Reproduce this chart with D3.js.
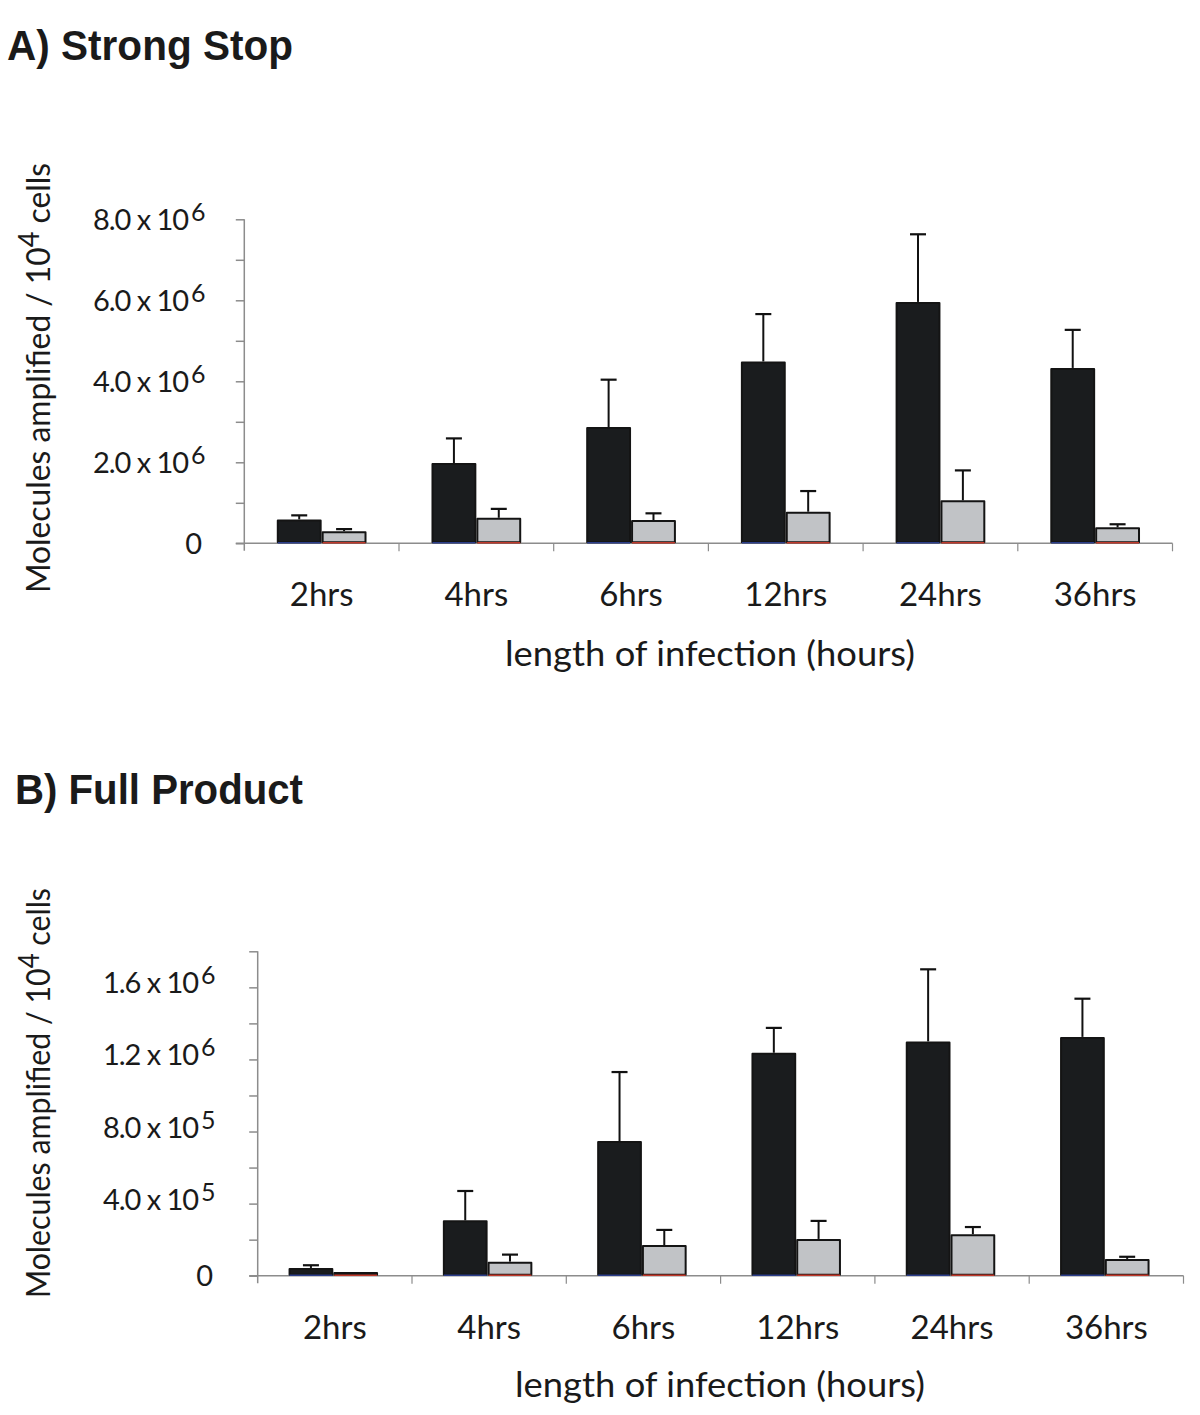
<!DOCTYPE html>
<html>
<head>
<meta charset="utf-8">
<script src="https://cdn.jsdelivr.net/npm/d3@7"></script>
<style>
  html, body { margin: 0; padding: 0; background: #ffffff; }
  svg { display: block; }
</style>
</head>
<body>
<svg id="chart" width="1200" height="1415"></svg>
<script>
// ---------- DATA ----------
const categories = ["2hrs", "4hrs", "6hrs", "12hrs", "24hrs", "36hrs"];
const seriesKeys = ["dark", "light"];

// Panel A: Strong Stop (molecules / 10^4 cells)
const strongStopDark      = [0.59e6, 1.98e6, 2.87e6, 4.49e6, 5.96e6, 4.33e6];
const strongStopDarkErr   = [0.10e6, 0.61e6, 1.17e6, 1.17e6, 1.67e6, 0.94e6];
const strongStopLight     = [0.30e6, 0.63e6, 0.575e6, 0.78e6, 1.06e6, 0.395e6];
const strongStopLightErr  = [0.05e6, 0.22e6, 0.165e6, 0.51e6, 0.74e6, 0.075e6];
const strongStopTicks     = [0, 1e6, 2e6, 3e6, 4e6, 5e6, 6e6, 7e6, 8e6];
const strongStopLabelVals = [0, 2e6, 4e6, 6e6, 8e6];
const strongStopLabels    = ["0", "2.0 x 10", "4.0 x 10", "6.0 x 10", "8.0 x 10"];
const strongStopExps      = ["", "6", "6", "6", "6"];

// Panel B: Full Product
const fullDark      = [0.43e5, 3.07e5, 7.47e5, 12.37e5, 13.0e5, 13.25e5];
const fullDarkErr   = [0.15e5, 1.63e5, 3.83e5, 1.38e5, 4.0e5, 2.12e5];
const fullLight     = [0.2e5, 0.78e5, 1.70e5, 2.04e5, 2.3e5, 0.93e5];
const fullLightErr  = [0, 0.39e5, 0.84e5, 1.0e5, 0.4e5, 0.12e5];
const fullTicks     = [0, 2e5, 4e5, 6e5, 8e5, 10e5, 12e5, 14e5, 16e5, 18e5];
const fullLabelVals = [0, 4e5, 8e5, 12e5, 16e5];
const fullLabels    = ["0", "4.0 x 10", "8.0 x 10", "1.2 x 10", "1.6 x 10"];
const fullExps      = ["", "5", "5", "6", "6"];

const titleA = "A) Strong Stop";
const titleB = "B) Full Product";
const xTitle = "length of infection (hours)";
const yTitleMain = "Molecules amplified / 10";
const yTitleExp = "4";
const yTitleEnd = " cells";

// ---------- DRAW ----------
const svg = d3.select("#chart");
svg.append("rect").attr("width", 1200).attr("height", 1415).attr("fill", "#ffffff");

const AXIS = "#8c8c8c";
const INK = "#1a1a1a";
const DARK = "#1a1c1e";
const LIGHT = "#c1c3c6";
const LABEL_FONT = "Lato, 'Open Sans', sans-serif";

function drawPanel(cfg) {
  const g = svg.append("g");
  const x = d3.scaleBand().domain(categories).range([cfg.left, cfg.right]).paddingInner(0).paddingOuter(0);
  const bw = x.bandwidth();
  const xs = d3.scaleBand().domain(seriesKeys).range([bw * cfg.p0, bw * cfg.p1]).padding(0);
  const y = d3.scaleLinear().domain([0, cfg.yMax]).range([cfg.zero, cfg.top]);

  // title
  g.append("text")
    .attr("x", cfg.titleX).attr("y", cfg.titleY)
    .attr("font-family", "'Liberation Sans', Arial, sans-serif")
    .attr("font-weight", "bold").attr("font-size", 43)
    .attr("fill", INK)
    .attr("textLength", cfg.titleLen).attr("lengthAdjust", "spacingAndGlyphs")
    .text(cfg.title);

  // y axis (line + ticks)
  const yAxis = d3.axisLeft(y).tickValues(cfg.ticks).tickSize(8.5).tickFormat("");
  const ya = g.append("g").attr("transform", `translate(${cfg.left},0)`).call(yAxis);
  ya.select(".domain").remove();
  ya.selectAll(".tick line").attr("stroke", AXIS).attr("stroke-width", 1.5);
  g.append("line")
    .attr("x1", cfg.left).attr("x2", cfg.left)
    .attr("y1", y(cfg.yMax)).attr("y2", cfg.zero + 7.5)
    .attr("stroke", AXIS).attr("stroke-width", 1.5);

  // x axis line + category boundary ticks
  g.append("line")
    .attr("x1", cfg.left - 8.5).attr("x2", cfg.right)
    .attr("y1", cfg.zero).attr("y2", cfg.zero)
    .attr("stroke", AXIS).attr("stroke-width", 1.5);
  const bounds = categories.map(c => x(c) + bw);
  g.selectAll(".xtick").data(bounds).enter().append("line")
    .attr("x1", d => d).attr("x2", d => d)
    .attr("y1", cfg.zero).attr("y2", cfg.zero + 8)
    .attr("stroke", AXIS).attr("stroke-width", 1.2);

  // y tick labels
  cfg.labelVals.forEach((v, i) => {
    if (cfg.exps[i] === "") {
      g.append("text")
        .attr("x", cfg.zeroEnd).attr("y", y(v) + 10.5)
        .attr("text-anchor", "end")
        .attr("font-family", LABEL_FONT).attr("font-size", 29).attr("fill", INK)
        .text(cfg.labels[i]);
    } else {
      g.append("text")
        .attr("x", cfg.mainEnd).attr("y", y(v) + cfg.labelDy)
        .attr("text-anchor", "end")
        .attr("font-family", LABEL_FONT).attr("font-size", 29).attr("fill", INK)
        .attr("textLength", 96).attr("lengthAdjust", "spacing")
        .text(cfg.labels[i]);
      g.append("text")
        .attr("x", cfg.mainEnd + cfg.supGap).attr("y", y(v) + cfg.labelDy - 9)
        .attr("font-family", LABEL_FONT).attr("font-size", 25).attr("fill", INK)
        .text(cfg.exps[i]);
    }
  });

  // x tick labels
  g.selectAll(".xlab").data(categories).enter().append("text")
    .attr("x", d => x(d) + bw / 2).attr("y", cfg.xLabelY)
    .attr("text-anchor", "middle")
    .attr("font-family", LABEL_FONT).attr("font-size", 33).attr("fill", INK)
    .text(d => d);

  // x title
  g.append("text")
    .attr("x", cfg.xTitleX).attr("y", cfg.xTitleY)
    .attr("text-anchor", "middle")
    .attr("font-family", LABEL_FONT).attr("font-size", 34).attr("fill", INK)
    .attr("textLength", 410).attr("lengthAdjust", "spacingAndGlyphs")
    .text(xTitle);

  // y title
  const yt = g.append("text")
    .attr("transform", `translate(${cfg.yTitleX},${cfg.yTitleY}) rotate(-90)`)
    .attr("text-anchor", "middle")
    .attr("font-family", LABEL_FONT).attr("font-size", 33).attr("fill", INK)
    .attr("textLength", cfg.yTitleLen).attr("lengthAdjust", "spacingAndGlyphs");
  yt.append("tspan").text(yTitleMain);
  yt.append("tspan").attr("dy", -11).attr("font-size", 28).text(yTitleExp);
  yt.append("tspan").attr("dy", 11).text(yTitleEnd);

  // bars
  const rows = categories.map((c, i) => ({
    cat: c,
    vals: [
      { key: "dark", v: cfg.dark[i], e: cfg.darkErr[i] },
      { key: "light", v: cfg.light[i], e: cfg.lightErr[i] }
    ]
  }));
  const grp = g.selectAll(".grp").data(rows).enter().append("g")
    .attr("transform", d => `translate(${x(d.cat)},0)`);

  // error bars (behind bars)
  const eb = grp.selectAll(".err").data(d => d.vals.filter(v => v.e > 0)).enter().append("g");
  eb.append("line")
    .attr("x1", d => xs(d.key) + xs.bandwidth() / 2)
    .attr("x2", d => xs(d.key) + xs.bandwidth() / 2)
    .attr("y1", d => y(d.v)).attr("y2", d => y(d.v + d.e))
    .attr("stroke", "#111").attr("stroke-width", 2);
  eb.append("line")
    .attr("x1", d => xs(d.key) + xs.bandwidth() / 2 - 8)
    .attr("x2", d => xs(d.key) + xs.bandwidth() / 2 + 8)
    .attr("y1", d => y(d.v + d.e)).attr("y2", d => y(d.v + d.e))
    .attr("stroke", "#111").attr("stroke-width", 2.2);

  grp.selectAll(".bar").data(d => d.vals).enter().append("rect")
    .attr("x", d => xs(d.key) + 1)
    .attr("width", xs.bandwidth() - 2)
    .attr("y", d => y(d.v) + 1)
    .attr("height", d => Math.max(0, y(0) - y(d.v) - 2))
    .attr("fill", d => d.key === "dark" ? DARK : LIGHT)
    .attr("stroke", "#141414").attr("stroke-width", 2)
    .attr("stroke-linejoin", "round");

  // coloured baseline edges under bars (as in the original)
  grp.selectAll(".base").data(d => d.vals).enter().append("line")
    .attr("x1", d => xs(d.key) + 1).attr("x2", d => xs(d.key) + xs.bandwidth() - 1)
    .attr("y1", y(0) - 0.5).attr("y2", y(0) - 0.5)
    .attr("stroke", d => d.key === "dark" ? "#2c3e8a" : "#c0392b")
    .attr("stroke-width", 1.5);
}

drawPanel({
  title: titleA, titleX: 7, titleY: 60, titleLen: 286,
  left: 244.3, right: 1172.5, zero: 543.3, top: 219.3, yMax: 8e6,
  p0: 0.21, p1: 0.79,
  ticks: strongStopTicks, labelVals: strongStopLabelVals, labels: strongStopLabels, exps: strongStopExps,
  mainEnd: 189, supGap: 2, zeroEnd: 202, labelDy: 10.5,
  xLabelY: 606, xTitleX: 710, xTitleY: 666,
  yTitleX: 50, yTitleY: 378, yTitleLen: 430,
  dark: strongStopDark, darkErr: strongStopDarkErr, light: strongStopLight, lightErr: strongStopLightErr
});

drawPanel({
  title: titleB, titleX: 15, titleY: 804, titleLen: 288,
  left: 257.7, right: 1183.5, zero: 1275.7, top: 951.3, yMax: 18e5,
  p0: 0.20, p1: 0.78,
  ticks: fullTicks, labelVals: fullLabelVals, labels: fullLabels, exps: fullExps,
  mainEnd: 199, supGap: 2, zeroEnd: 213, labelDy: 6,
  xLabelY: 1339, xTitleX: 720, xTitleY: 1397,
  yTitleX: 50, yTitleY: 1093, yTitleLen: 410,
  dark: fullDark, darkErr: fullDarkErr, light: fullLight, lightErr: fullLightErr
});
</script>
</body>
</html>
